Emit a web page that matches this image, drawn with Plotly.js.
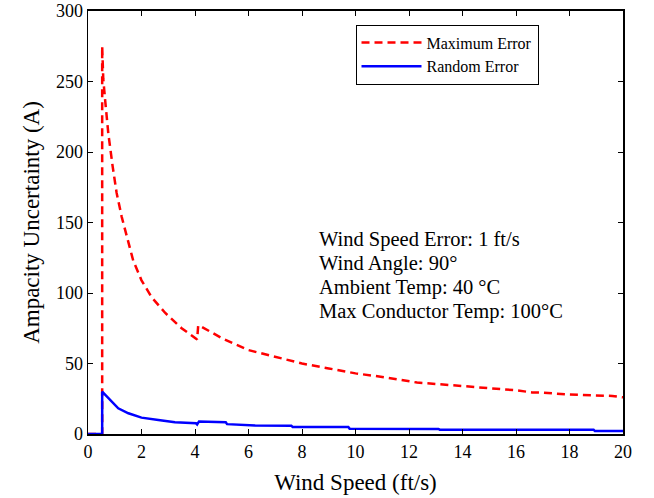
<!DOCTYPE html>
<html>
<head>
<meta charset="utf-8">
<script src="https://cdn.plot.ly/plotly-3.0.1.min.js"></script>
<style>html,body{margin:0;padding:0;background:#fff;}#chart{width:654px;height:498px;}</style>
</head>
<body>
<div id="chart"></div>
<script>
var maxErrX = [0, 0.53, 0.53, 0.57, 0.64, 0.76, 0.92, 1.07, 1.26, 1.45, 1.69, 2.0, 2.38, 2.88, 3.5, 4.08, 4.12, 4.25, 5.0, 6.0, 7.0, 8.0, 9.0, 10.0, 11.0, 11.6, 12.3, 13.0, 14.0, 15.0, 16.0, 16.6, 17.0, 18.0, 19.0, 19.6, 20.0];
var maxErrY = [0, 0, 275, 252, 237, 213, 190, 171, 154, 140, 123, 109, 97, 86, 75, 67, 77, 76, 68, 59.5, 54.5, 50, 46.5, 43, 40.5, 38.5, 36.5, 35.5, 34, 32.5, 31, 29.5, 29.3, 28, 27.5, 27, 26];
var randErrX = [0, 0.53, 0.53, 0.7, 0.88, 1.13, 1.51, 2.0, 2.63, 3.25, 4.04, 4.08, 4.15, 5.15, 5.2, 6.2, 6.25, 7.6, 7.65, 9.73, 9.78, 13.1, 13.15, 18.9, 18.95, 20];
var randErrY = [0, 0, 30, 26.5, 22.9, 18.2, 14.7, 11.6, 9.9, 8.3, 7.6, 6.8, 8.9, 8.3, 7.0, 6.5, 6.0, 5.9, 5.0, 5.0, 3.8, 3.6, 3.1, 3.1, 2.1, 2.1];
var xTicks = [0, 2, 4, 6, 8, 10, 12, 14, 16, 18, 20];
var yTicks = [0, 50, 100, 150, 200, 250, 300];
var seriesNames = ['Maximum Error', 'Random Error'];
var noteLines = ['Wind Speed Error: 1 ft/s', 'Wind Angle: 90°', 'Ambient Temp: 40 °C', 'Max Conductor Temp: 100°C'];
var noteY = [137.6, 121.0, 104.2, 87.2];

var font = 'Liberation Serif, Times New Roman, serif';
var traces = [
  {x: maxErrX, y: maxErrY, name: seriesNames[0], type: 'scatter', mode: 'lines',
   line: {color: '#ff0000', width: 2.5, dash: '8px,5px'}},
  {x: randErrX, y: randErrY, name: seriesNames[1], type: 'scatter', mode: 'lines',
   line: {color: '#0000ff', width: 2.5}}
];
var annotations = noteLines.map(function (t, i) {
  return {xref: 'x', yref: 'y', x: 8.55, y: noteY[i], xanchor: 'left', yanchor: 'middle',
          text: t, showarrow: false, align: 'left',
          font: {family: font, size: 20.5, color: '#000'}};
});
var layout = {
  width: 654, height: 498,
  margin: {l: 88, r: 31, t: 11, b: 64},
  paper_bgcolor: '#fff', plot_bgcolor: '#fff',
  font: {family: font, color: '#000', size: 18},
  showlegend: true,
  legend: {x: 0.5, xanchor: 'left', y: 0.968, yanchor: 'top',
           bordercolor: '#000', borderwidth: 1, bgcolor: '#fff',
           itemwidth: 60, tracegroupgap: 0,
           font: {family: font, size: 16}},
  xaxis: {range: [0, 20], tickvals: xTicks, ticktext: xTicks.map(String),
          ticks: 'inside', ticklen: 5, tickcolor: '#000', showgrid: false, zeroline: false,
          showline: true, linecolor: '#000', linewidth: 2, mirror: 'ticks',
          title: {text: 'Wind Speed (ft/s)', font: {family: font, size: 23}, standoff: 13}},
  yaxis: {range: [0, 300], tickvals: yTicks, ticktext: yTicks.map(String),
          ticks: 'inside', ticklen: 5, tickcolor: '#000', showgrid: false, zeroline: false,
          showline: true, linecolor: '#000', linewidth: 1.5, mirror: 'ticks',
          title: {text: 'Ampacity Uncertainty (A)', font: {family: font, size: 23}, standoff: 10}},
  annotations: annotations
};
Plotly.newPlot('chart', traces, layout, {displayModeBar: false, staticPlot: true});
</script>
</body>
</html>
